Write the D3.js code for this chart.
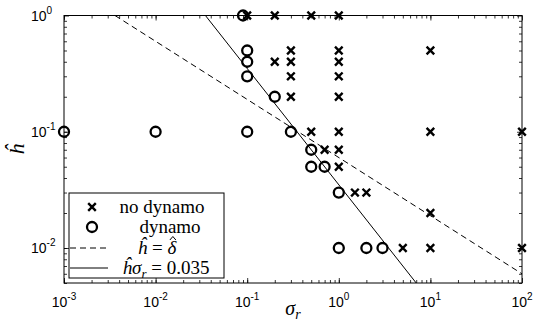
<!DOCTYPE html>
<html>
<head>
<meta charset="utf-8">
<script src="https://cdn.jsdelivr.net/npm/d3@7"></script>
<style>
  body { margin: 0; background: #fff; }
  svg { display: block; }
</style>
</head>
<body>
<script>
// datos
var noDynamoSigma = [0.1, 0.2, 0.5, 1, 0.3, 1, 10, 0.2, 0.3, 1, 0.3, 1, 0.3, 1,
                     0.5, 1, 10, 100, 0.7, 1, 1, 1.5, 2, 10, 5, 10, 100];
var noDynamoH     = [1, 1, 1, 1, 0.5, 0.5, 0.5, 0.4, 0.4, 0.4, 0.3, 0.3, 0.2, 0.2,
                     0.1, 0.1, 0.1, 0.1, 0.07, 0.07, 0.05, 0.03, 0.03, 0.02, 0.01, 0.01, 0.01];

var dynamoSigma = [0.09, 0.1, 0.1, 0.1, 0.2, 0.001, 0.01, 0.1, 0.3, 0.5, 0.5, 0.7, 1, 1, 2, 3];
var dynamoH     = [1, 0.5, 0.4, 0.3, 0.2, 0.1, 0.1, 0.1, 0.1, 0.07, 0.05, 0.05, 0.03, 0.01, 0.01, 0.01];

// rectas teoricas (extremos dentro del eje)
var deltaLineSigma = [0.0036, 100];
var deltaLineH     = [1, 0.006];
var constLineSigma = [0.035, 7];
var constLineH     = [1, 0.005];

var xTickExp = [-3, -2, -1, 0, 1, 2];
var yTickExp = [-2, -1, 0];
var legendLabels = ["no dynamo", "dynamo", "ĥ = δ̂", "ĥσ_r = 0.035"];

var width = 548, height = 328;
var margin = {top: 15.5, right: 26, bottom: 45, left: 64};

var svg = d3.select("body").append("svg")
    .attr("width", width)
    .attr("height", height);

var x = d3.scaleLog().domain([1e-3, 1e2]).range([margin.left, width - margin.right]);
var y = d3.scaleLog().domain([0.005, 1]).range([height - margin.bottom, margin.top]);

var x0 = x.range()[0], x1 = x.range()[1], y0 = y.range()[0], y1 = y.range()[1];

// ticks menores
function minors(lo, hi) {
    var out = [];
    for (var e = Math.floor(Math.log10(lo)); e < Math.ceil(Math.log10(hi)); e++) {
        for (var k = 1; k < 10; k++) {
            var v = k * Math.pow(10, e);
            if (v >= lo * 0.999 && v <= hi * 1.001) out.push(v);
        }
    }
    return out;
}
var xMinor = minors(1e-3, 1e2);
var yMinor = minors(0.005, 1);
var xMajor = xTickExp.map(function(e) { return Math.pow(10, e); });
var yMajor = yTickExp.map(function(e) { return Math.pow(10, e); });

function drawAxis(axisFn, scale, vals, size, tx, ty) {
    var g = svg.append("g")
        .attr("transform", "translate(" + tx + "," + ty + ")")
        .call(axisFn(scale).tickValues(vals).tickSize(size).tickFormat(""));
    g.select(".domain").remove();
    g.selectAll("line").attr("stroke", "#000").attr("stroke-width", 0.8);
}
drawAxis(d3.axisBottom, x, xMinor, -3, 0, y0);
drawAxis(d3.axisBottom, x, xMajor, -5, 0, y0);
drawAxis(d3.axisTop, x, xMinor, -3, 0, y1);
drawAxis(d3.axisTop, x, xMajor, -5, 0, y1);
drawAxis(d3.axisLeft, y, yMinor, -3, x0, 0);
drawAxis(d3.axisLeft, y, yMajor, -5, x0, 0);
drawAxis(d3.axisRight, y, yMinor, -3, x1, 0);
drawAxis(d3.axisRight, y, yMajor, -5, x1, 0);

// caja
svg.append("rect")
    .attr("x", x0).attr("y", y1)
    .attr("width", x1 - x0).attr("height", y0 - y1)
    .attr("fill", "none").attr("stroke", "#000").attr("stroke-width", 1);

// etiquetas de ticks
var tickFont = "Liberation Sans, Arial, sans-serif";
xTickExp.forEach(function(e) {
    var t = svg.append("text")
        .attr("x", x(Math.pow(10, e)))
        .attr("y", y0 + 24)
        .attr("text-anchor", "middle")
        .attr("font-family", tickFont)
        .attr("font-size", 14);
    t.append("tspan").text("10");
    t.append("tspan").attr("dy", -7).attr("font-size", 10).text(String(e));
});
yTickExp.forEach(function(e) {
    var t = svg.append("text")
        .attr("x", 31)
        .attr("y", y(Math.pow(10, e)) + 5)
        .attr("text-anchor", "start")
        .attr("font-family", tickFont)
        .attr("font-size", 14);
    t.append("tspan").text("10");
    t.append("tspan").attr("dy", -7).attr("font-size", 10).text(String(e));
});

// titulos de ejes
var serif = "Liberation Serif, Times New Roman, serif";
var xl = svg.append("text")
    .attr("x", (x0 + x1) / 2)
    .attr("y", 315)
    .attr("text-anchor", "middle")
    .attr("font-family", serif)
    .attr("font-style", "italic")
    .attr("font-size", 20);
xl.append("tspan").text("σ");
xl.append("tspan").attr("dy", 4).attr("font-size", 14).text("r");

svg.append("text")
    .attr("transform", "translate(24," + ((y0 + y1) / 2) + ") rotate(-90)")
    .attr("text-anchor", "middle")
    .attr("font-family", serif)
    .attr("font-style", "italic")
    .attr("font-size", 22)
    .text("ĥ");

// rectas
var line = d3.line()
    .x(function(d) { return x(d[0]); })
    .y(function(d) { return y(d[1]); });

svg.append("path")
    .datum(d3.zip(deltaLineSigma, deltaLineH))
    .attr("d", line)
    .attr("fill", "none").attr("stroke", "#000").attr("stroke-width", 1)
    .attr("stroke-dasharray", "6,4");

svg.append("path")
    .datum(d3.zip(constLineSigma, constLineH))
    .attr("d", line)
    .attr("fill", "none").attr("stroke", "#000").attr("stroke-width", 1);

// marcadores
var xMark = "M-3.8,-3.8L3.8,3.8M-3.8,3.8L3.8,-3.8";

svg.append("g").selectAll("path")
    .data(d3.zip(noDynamoSigma, noDynamoH))
    .enter().append("path")
    .attr("transform", function(d) { return "translate(" + x(d[0]) + "," + y(d[1]) + ")"; })
    .attr("d", xMark)
    .attr("fill", "none").attr("stroke", "#000").attr("stroke-width", 2.4);

svg.append("g").selectAll("circle")
    .data(d3.zip(dynamoSigma, dynamoH))
    .enter().append("circle")
    .attr("cx", function(d) { return x(d[0]); })
    .attr("cy", function(d) { return y(d[1]); })
    .attr("r", 5)
    .attr("fill", "none").attr("stroke", "#000").attr("stroke-width", 2.3);

// leyenda
var leg = svg.append("g").attr("transform", "translate(69,193)");
leg.append("rect")
    .attr("width", 155).attr("height", 85)
    .attr("fill", "#fff").attr("stroke", "#000").attr("stroke-width", 1);

var rowY = [14, 34, 55, 75];
var textX = [93, 101, 88, 97];

leg.append("path")
    .attr("transform", "translate(23," + rowY[0] + ")")
    .attr("d", xMark)
    .attr("fill", "none").attr("stroke", "#000").attr("stroke-width", 2.4);
leg.append("circle")
    .attr("cx", 23).attr("cy", rowY[1]).attr("r", 5)
    .attr("fill", "none").attr("stroke", "#000").attr("stroke-width", 2.3);
leg.append("line")
    .attr("x1", 1).attr("x2", 39).attr("y1", rowY[2]).attr("y2", rowY[2])
    .attr("stroke", "#000").attr("stroke-width", 1).attr("stroke-dasharray", "6,4");
leg.append("line")
    .attr("x1", 1).attr("x2", 39).attr("y1", rowY[3]).attr("y2", rowY[3])
    .attr("stroke", "#000").attr("stroke-width", 1);

function legText(i) {
    return leg.append("text")
        .attr("x", textX[i])
        .attr("y", rowY[i] + 6)
        .attr("text-anchor", "middle")
        .attr("font-family", serif)
        .attr("font-size", 19);
}
legText(0).text(legendLabels[0]);
legText(1).text(legendLabels[1]);

// h = delta; el gorro de delta va en un path aparte, sobre la letra
var t2 = legText(2);
t2.append("tspan").attr("font-style", "italic").text("ĥ");
t2.append("tspan").text(" = ");
t2.append("tspan").attr("font-style", "italic").text("δ");
var ext = t2.node().getExtentOfChar(4);
var hx = ext.x + ext.width / 2 + 1, hy = ext.y + 1;
leg.append("path")
    .attr("d", "M" + (hx - 3) + "," + (hy + 2) + "L" + hx + "," + (hy - 1.5) + "L" + (hx + 3) + "," + (hy + 2))
    .attr("fill", "none").attr("stroke", "#000").attr("stroke-width", 1);

var t3 = legText(3);
t3.append("tspan").attr("font-style", "italic").text("ĥσ");
t3.append("tspan").attr("dy", 4).attr("font-style", "italic").attr("font-size", 13).text("r");
t3.append("tspan").attr("dy", -4).text(" = 0.035");
</script>
</body>
</html>
